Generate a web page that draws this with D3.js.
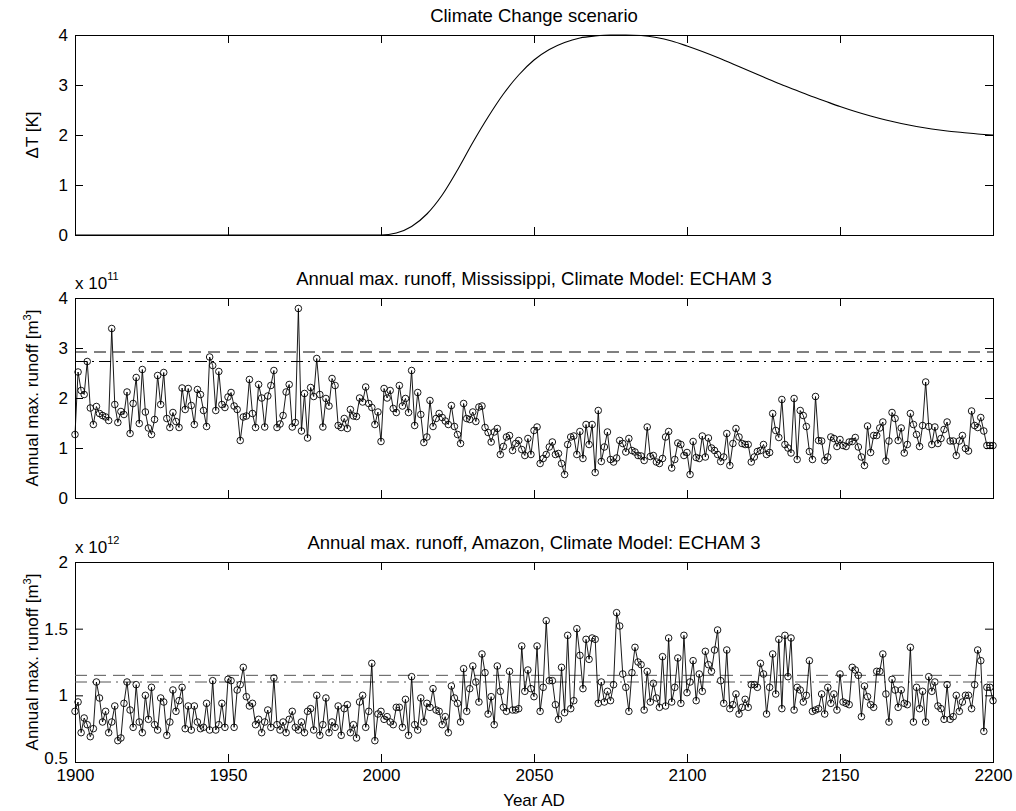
<!DOCTYPE html>
<html><head><meta charset="utf-8">
<script src="https://cdn.jsdelivr.net/npm/d3@7"></script>
<style>
html,body{margin:0;padding:0;background:#fff;}
text{font-family:"Liberation Sans",Arial,Helvetica,sans-serif;fill:#000;}
</style></head>
<body>
<script>
// ---------------- data ----------------
const startYear = 1900;
const xTicks = [1900, 1950, 2000, 2050, 2100, 2150, 2200];

const dtYears = [1900,1995,2000,2005,2010,2015,2020,2025,2030,2035,2040,2045,2050,2055,2060,2065,2070,2075,2080,2085,2090,2095,2100,2105,2110,2115,2120,2125,2130,2135,2140,2145,2150,2155,2160,2165,2170,2175,2180,2185,2190,2195,2200];
const dtValues = [0,0,0,0.04,0.17,0.42,0.8,1.3,1.85,2.36,2.82,3.2,3.5,3.71,3.85,3.94,3.98,4.0,4.0,3.99,3.95,3.88,3.78,3.67,3.55,3.42,3.29,3.16,3.03,2.91,2.79,2.68,2.57,2.47,2.38,2.3,2.23,2.17,2.12,2.08,2.05,2.02,2.0];
const dtTicks = [0,1,2,3,4];

// Mississippi annual max runoff, x 1e11 m^3
const mississippi = [
1.27,2.52,2.15,2.07,2.73,1.80,1.47,1.83,1.69,1.65,
1.62,1.55,3.39,1.87,1.51,1.73,1.67,2.12,1.29,1.89,
2.41,1.49,2.57,1.72,1.40,1.27,1.57,2.45,1.87,2.51,
1.59,1.41,1.71,1.53,1.41,2.20,1.77,2.19,1.85,1.47,
2.17,2.07,1.75,1.43,2.82,2.65,1.75,2.53,1.87,1.81,
2.02,2.11,1.84,1.77,1.15,1.62,1.64,2.37,1.69,1.41,
2.27,2.00,1.42,2.04,2.25,2.55,1.41,1.48,1.65,2.12,
2.27,1.42,1.51,3.79,1.34,2.09,1.20,2.21,2.03,2.79,
2.07,1.42,1.99,1.84,2.39,2.25,1.45,1.41,1.59,1.39,
1.77,1.64,1.63,2.00,1.92,2.22,1.89,1.81,1.47,1.72,
1.13,2.19,2.00,2.15,1.79,1.71,2.25,1.84,1.99,1.71,
2.55,1.45,2.11,1.67,1.11,1.22,1.95,1.43,1.59,1.69,
1.61,1.54,1.47,1.85,1.43,1.27,1.09,1.89,1.59,1.57,
1.72,1.53,1.82,1.84,1.41,1.31,1.12,1.32,1.39,0.87,
1.03,1.22,1.25,0.95,1.09,1.15,0.97,0.85,1.19,0.87,
1.35,1.42,0.69,0.79,0.87,1.02,1.12,0.87,0.89,0.69,
0.47,1.07,1.22,1.24,0.87,1.33,0.79,1.47,1.07,1.47,
0.51,1.75,0.73,1.02,1.32,0.77,0.72,0.80,1.15,1.09,
0.92,1.19,0.95,0.92,0.85,0.84,0.75,1.42,0.83,0.85,
0.72,0.69,0.79,1.22,1.33,0.60,0.77,1.10,1.07,0.85,
0.91,0.47,1.13,0.81,0.79,1.24,0.82,1.20,1.00,0.95,
0.87,0.73,0.82,1.29,0.65,1.09,1.39,1.22,1.09,1.07,
1.07,0.72,0.82,0.93,0.95,1.07,0.87,0.91,1.69,1.35,
1.21,1.97,1.07,1.00,0.90,1.99,0.77,1.75,1.65,1.43,
0.93,0.77,2.03,1.15,1.14,0.75,0.82,1.22,1.19,1.03,
1.17,1.05,1.03,1.12,1.13,1.21,1.02,0.82,0.65,1.44,
0.91,1.25,1.25,1.40,1.52,0.74,1.14,1.71,1.59,1.15,
1.40,0.90,1.07,1.69,1.47,1.27,1.03,1.45,2.32,1.43,
1.07,1.42,1.09,1.19,1.37,1.52,1.14,1.14,0.85,1.14,
1.25,0.99,0.94,1.74,1.45,1.41,1.61,1.34,1.05,1.05,
1.05];
const missDashed = 2.92, missDashDot = 2.73;
const missTicks = [0,1,2,3,4];

// Amazon annual max runoff, x 1e12 m^3
const amazon = [
0.88,0.95,0.72,0.83,0.78,0.69,0.75,1.10,0.98,0.80,
0.88,0.72,0.80,0.92,0.66,0.68,0.94,1.10,0.89,0.76,
1.08,0.80,0.72,1.00,0.82,1.06,0.78,0.74,0.98,0.95,
0.70,0.80,1.04,0.88,0.96,1.06,0.75,0.92,0.74,0.92,
0.80,0.75,0.76,0.94,0.74,1.11,0.74,0.78,0.94,0.76,
1.12,1.11,0.76,1.04,1.08,1.21,0.99,0.92,0.94,0.78,
0.82,0.72,0.80,0.89,0.76,1.13,0.78,0.74,0.80,0.72,
0.82,0.88,0.76,0.74,0.80,0.72,0.88,0.90,0.74,1.00,
0.70,0.78,0.98,0.72,0.80,0.76,0.92,0.70,0.90,0.93,
0.72,0.78,0.68,0.95,1.00,0.76,0.88,1.24,0.66,0.86,
0.88,0.82,0.84,0.80,0.78,0.91,0.91,0.76,0.97,0.70,
1.14,0.78,0.74,0.98,0.80,0.94,0.91,1.05,0.89,0.88,
0.78,0.84,0.72,1.07,0.98,0.94,0.80,1.20,0.88,1.05,
1.22,1.10,0.95,1.31,1.17,0.86,0.99,0.78,1.22,1.03,
0.91,0.88,1.18,0.89,0.89,0.90,1.37,1.03,1.19,1.05,
0.99,1.37,0.88,1.06,1.56,1.11,1.11,0.93,0.82,1.21,
0.87,1.45,0.90,0.96,1.50,1.30,1.05,1.42,1.27,1.43,
1.42,0.94,1.10,0.95,1.03,0.96,1.08,1.62,1.52,1.16,
1.06,0.88,1.17,1.36,1.25,1.23,0.89,1.18,0.95,1.09,
0.98,0.91,1.29,0.92,1.43,0.95,1.06,1.28,0.94,1.45,
1.02,1.10,1.26,0.96,1.16,1.03,1.33,1.23,1.18,1.34,
1.49,1.11,0.94,1.34,0.90,0.93,1.01,0.86,0.91,0.97,
0.91,1.08,1.08,1.06,1.24,1.16,0.86,1.06,1.31,1.01,
1.42,0.90,1.45,1.14,1.43,0.89,1.06,1.04,0.95,1.00,
1.26,0.88,0.89,0.90,1.01,0.86,1.06,0.94,1.01,0.89,
1.16,0.95,0.94,0.93,1.21,1.19,1.15,0.84,1.07,0.99,
0.93,0.91,1.18,1.18,1.31,1.01,0.80,1.12,1.04,0.91,
1.04,0.94,0.93,1.36,0.80,1.06,0.90,1.03,0.80,1.14,
1.03,1.10,0.92,0.90,0.82,1.08,0.82,0.84,1.00,0.88,
0.95,1.00,1.00,0.90,1.08,1.34,1.26,0.73,1.06,1.06,
0.96];
const amaDashed = 1.15, amaDashDot = 1.10;
const amaTicks = [0.5,1,1.5,2];

// ---------------- layout ----------------
const W = 1016, H = 811;
const L = 75, R = 993;
const FS = 17, TFS = 18.5;
const TL = 8;

const svg = d3.select("body").append("svg").attr("width", W).attr("height", H)
  .style("display","block");
svg.append("rect").attr("width",W).attr("height",H).attr("fill","#fff");

const x = d3.scaleLinear().domain([1900, 2200]).range([L, R]);

function panel(top, bottom, yDomain, yTicks, yFmt, showX) {
  const y = d3.scaleLinear().domain(yDomain).range([bottom, top]);
  const g = svg.append("g");
  const aL = g.append("g").attr("transform", `translate(${L},0)`)
    .call(d3.axisLeft(y).tickValues(yTicks).tickSize(-TL).tickPadding(7).tickFormat(yFmt));
  const aR = g.append("g").attr("transform", `translate(${R},0)`)
    .call(d3.axisRight(y).tickValues(yTicks).tickSize(-TL).tickFormat(""));
  const aB = g.append("g").attr("transform", `translate(0,${bottom})`)
    .call(d3.axisBottom(x).tickValues(xTicks).tickSize(-TL).tickPadding(7)
      .tickFormat(showX ? d3.format("d") : ""));
  const aT = g.append("g").attr("transform", `translate(0,${top})`)
    .call(d3.axisTop(x).tickValues(xTicks).tickSize(-TL).tickFormat(""));
  [aL, aR, aB, aT].forEach(a => {
    a.select(".domain").remove();
    a.selectAll("line").attr("stroke", "#000").attr("stroke-width", 1);
    a.selectAll("text").attr("font-size", FS).attr("fill", "#000")
      .attr("font-family", '"Liberation Sans",Arial,sans-serif');
  });
  g.append("rect").attr("x", L + 0.5).attr("y", top + 0.5)
    .attr("width", R - L).attr("height", bottom - top)
    .attr("fill", "none").attr("stroke", "#000").attr("stroke-width", 1);
  return { g, y, aL };
}

function titleText(txt, yBase) {
  svg.append("text").attr("x", (L + R) / 2).attr("y", yBase)
    .attr("text-anchor", "middle").attr("font-size", TFS).text(txt);
}

// ---- Panel 1: climate scenario ----
const p1 = panel(35, 235, [0, 4], dtTicks, d3.format("d"), false);
titleText("Climate Change scenario", 22);
const dtData = dtYears.map((yr, i) => [yr, dtValues[i]]);
p1.g.append("path").datum(dtData)
  .attr("fill", "none").attr("stroke", "#000").attr("stroke-width", 1.1)
  .attr("d", d3.line().x(d => x(d[0])).y(d => p1.y(d[1])).curve(d3.curveMonotoneX));
svg.append("text").attr("transform", `translate(38,135) rotate(-90)`)
  .attr("text-anchor", "middle").attr("font-size", FS).text("\u0394T [K]");

// ---- series panel helper ----
function seriesPanel(top, bottom, dom, ticks, fmt, data, dashed, dashdot, refColor, title, expo, showX) {
  const p = panel(top, bottom, dom, ticks, fmt, showX);
  const pts = data.map((v, i) => [startYear + i, v]);
  p.g.append("line").attr("x1", L).attr("x2", R)
    .attr("y1", p.y(dashed)).attr("y2", p.y(dashed))
    .attr("stroke", refColor).attr("stroke-width", 1).attr("stroke-dasharray", "12,7");
  p.g.append("line").attr("x1", L).attr("x2", R)
    .attr("y1", p.y(dashdot)).attr("y2", p.y(dashdot))
    .attr("stroke", refColor).attr("stroke-width", 1).attr("stroke-dasharray", "12,5,2,5");
  p.g.append("path").datum(pts)
    .attr("fill", "none").attr("stroke", "#000").attr("stroke-width", 0.9)
    .attr("d", d3.line().x(d => x(d[0])).y(d => p.y(d[1])));
  p.g.selectAll("circle.m").data(pts).join("circle").attr("class", "m")
    .attr("cx", d => x(d[0])).attr("cy", d => p.y(d[1])).attr("r", 3.3)
    .attr("fill", "none").attr("stroke", "#000").attr("stroke-width", 0.9);
  titleText(title, top - 13);
  const ex = svg.append("text").attr("x", L).attr("y", top - 9).attr("font-size", FS);
  ex.append("tspan").text("x 10");
  ex.append("tspan").attr("dy", -9).attr("font-size", 11).text(expo);
  const yl = svg.append("text")
    .attr("transform", `translate(38,${(top + bottom) / 2}) rotate(-90)`)
    .attr("text-anchor", "middle").attr("font-size", FS);
  yl.append("tspan").text("Annual max. runoff [m");
  yl.append("tspan").attr("dy", -7).attr("font-size", 11).text("3");
  yl.append("tspan").attr("dy", 7).text("]");
  return p;
}

seriesPanel(298, 498, [0, 4], missTicks, d3.format("d"), mississippi, missDashed, missDashDot, "#000",
  "Annual max. runoff, Mississippi, Climate Model: ECHAM 3", "11", false);
const p3 = seriesPanel(562, 762, [0.5, 2], amaTicks, d => String(d),
  amazon, amaDashed, amaDashDot, "#555",
  "Annual max. runoff, Amazon, Climate Model: ECHAM 3", "12", true);
// lowest y label sits a touch above the corner so it clears the year labels
p3.aL.selectAll(".tick text").filter(d => d === 0.5).attr("dy", "0.1em");

svg.append("text").attr("x", (L + R) / 2).attr("y", 806)
  .attr("text-anchor", "middle").attr("font-size", FS).text("Year AD");
</script>
</body></html>
